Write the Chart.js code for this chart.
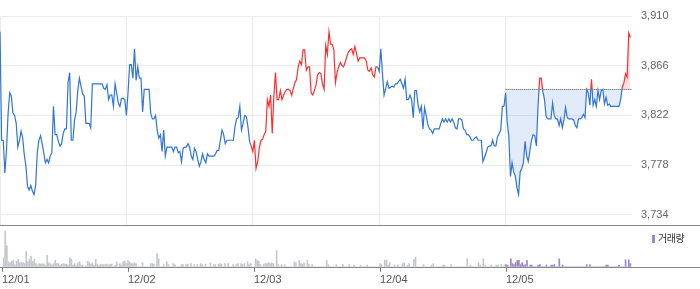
<!DOCTYPE html>
<html lang="ko">

<head>
    <meta charset="UTF-8">
    <title>Document</title>
    <script src="https://cdn.jsdelivr.net/npm/chart.js"></script>
    <style>
        body {
            margin: 0;
            background: #fff;
        }

        .wrap {
            position: relative;
            width: 700px;
            height: 289px;
        }

        #priceCanvas {
            position: absolute;
            left: 0;
            top: 0;
        }

        #volumeCanvas {
            position: absolute;
            left: 0;
            top: 226px;
        }

        .legend {
            position: absolute;
            left: 652px;
            top: 230px;
            font: 10px "Noto Sans CJK KR";
            color: #333;
            letter-spacing: -0.5px;
        }

        .legend i {
            display: inline-block;
            width: 3px;
            height: 8px;
            background: #9a88c8;
            margin-right: 3px;
            vertical-align: -1px;
        }
    </style>
</head>

<body>
    <div class="wrap">
        <canvas id="priceCanvas" width="700" height="226"></canvas>
        <canvas id="volumeCanvas" width="700" height="63"></canvas>
        <div class="legend"><i></i>거래량</div>
    </div>

    <script>
        const dates = ['12/01', '12/02', '12/03', '12/04', '12/05'];
        const priceTicks = [3734, 3778, 3822, 3866, 3910];
        const prevClose = 3845;

        // 5-minute prices, one array per day
        const price1 = [
            3896, 3800, 3800, 3771, 3791, 3824, 3842, 3839, 3824, 3822,
            3815, 3794, 3800, 3808, 3802, 3787, 3777, 3759, 3756, 3760,
            3755, 3752, 3760, 3789, 3800, 3804, 3797, 3789, 3780, 3783,
            3780, 3786, 3789, 3830, 3805, 3805, 3799, 3795, 3797, 3806,
            3810, 3810, 3851, 3860, 3800, 3800, 3818, 3825, 3844, 3855,
            3848, 3841, 3839, 3815, 3815, 3815, 3811, 3850, 3850, 3850,
            3850, 3850, 3850, 3850, 3846, 3845, 3849, 3836, 3840, 3840,
            3830, 3850, 3842, 3833, 3830, 3837, 3837, 3836
        ];
        const price2 = [
            3822, 3842, 3867, 3867, 3855, 3881, 3853, 3865, 3855, 3855,
            3825, 3845, 3845, 3845, 3845, 3824, 3819, 3819, 3822, 3809,
            3802, 3805, 3790, 3809, 3786, 3794, 3794, 3794, 3794, 3790,
            3794, 3794, 3789, 3790, 3781, 3793, 3794, 3794, 3797, 3794,
            3786, 3783, 3793, 3790, 3783, 3777, 3781, 3788, 3783, 3780,
            3788, 3786, 3786, 3786, 3786, 3788, 3791, 3791, 3800, 3809,
            3805, 3797, 3800, 3800, 3800, 3800, 3800, 3812, 3819, 3820,
            3830, 3809, 3815, 3822, 3821, 3812, 3799, 3795
        ];
        const price3 = [
            3790, 3800, 3775, 3781, 3793, 3800, 3801, 3805, 3808, 3836,
            3830, 3840, 3806, 3839, 3860, 3836, 3836, 3844, 3836, 3840,
            3843, 3845, 3845, 3844, 3840, 3846, 3851, 3854, 3865, 3870,
            3867, 3880, 3880, 3862, 3865, 3865, 3842, 3840, 3844, 3849,
            3858, 3860, 3859, 3850, 3845, 3884, 3876, 3896, 3885, 3885,
            3880, 3851, 3860, 3865, 3869, 3866, 3865, 3869, 3874, 3878,
            3880, 3881, 3876, 3883, 3877, 3870, 3873, 3873, 3873, 3873,
            3870, 3862, 3861, 3864, 3858, 3856, 3865, 3865
        ];
        const price4 = [
            3861, 3881, 3859, 3840, 3846, 3852, 3846, 3847, 3848, 3847,
            3850, 3850, 3852, 3854, 3850, 3846, 3854, 3836, 3836, 3840,
            3836, 3820, 3844, 3844, 3831, 3825, 3830, 3810, 3829, 3822,
            3814, 3810, 3809, 3806, 3810, 3810, 3810, 3810, 3815, 3819,
            3816, 3819, 3816, 3819, 3816, 3819, 3816, 3811, 3810, 3819,
            3819, 3818, 3810, 3809, 3805, 3805, 3803, 3800, 3800, 3802,
            3803, 3800, 3800, 3800, 3781, 3785, 3789, 3794, 3795, 3795,
            3800, 3795, 3795, 3803, 3806, 3809, 3830, 3830
        ];
        const price5 = [
            3842, 3816, 3803, 3768, 3780, 3772, 3768, 3758, 3752, 3772,
            3775, 3780, 3799, 3786, 3781, 3791, 3800, 3805, 3804, 3795,
            3830, 3855, 3855, 3843, 3836, 3821, 3819, 3819, 3819, 3833,
            3822, 3819, 3819, 3813, 3819, 3811, 3818, 3829, 3820, 3819,
            3819, 3819, 3818, 3813, 3811, 3819, 3819, 3820, 3823, 3820,
            3845, 3842, 3831, 3854, 3831, 3836, 3830, 3844, 3836, 3844,
            3845, 3832, 3838, 3831, 3832, 3830, 3830, 3830, 3830, 3830,
            3830, 3836, 3847, 3851, 3859, 3856, 3895, 3891
        ];

        // volume per 5-minute bar
        const volume1 = [
            0, 90, 367, 217, 50, 40, 57, 67, 20, 57,
            77, 40, 43, 43, 33, 157, 50, 77, 107, 57,
            77, 33, 20, 33, 27, 33, 27, 17, 117, 40,
            33, 20, 33, 67, 33, 33, 17, 27, 33, 27,
            27, 17, 93, 77, 17, 33, 17, 40, 50, 17,
            17, 0, 10, 57, 50, 27, 43, 17, 77, 27,
            17, 23, 23, 23, 23, 27, 17, 27, 27, 0,
            17, 50, 0, 33, 17, 50, 60, 33
        ];
        const volume2 = [
            63, 50, 33, 33, 40, 33, 0, 0, 0, 43,
            0, 0, 0, 0, 33, 33, 27, 0, 133, 83,
            0, 0, 23, 0, 50, 23, 0, 0, 33, 23,
            0, 0, 0, 23, 23, 0, 23, 27, 0, 33,
            0, 23, 0, 23, 0, 33, 23, 0, 27, 0,
            0, 40, 0, 23, 23, 0, 27, 33, 23, 0,
            33, 0, 33, 0, 0, 23, 0, 23, 33, 0,
            33, 23, 33, 0, 50, 23, 33, 0
        ];
        const volume3 = [
            0, 83, 67, 57, 23, 0, 27, 33, 33, 43,
            33, 40, 33, 0, 167, 23, 0, 23, 0, 23,
            0, 0, 0, 0, 0, 50, 40, 0, 67, 33,
            27, 40, 0, 67, 23, 0, 23, 0, 0, 0,
            0, 0, 0, 0, 0, 67, 23, 0, 0, 0,
            0, 23, 0, 0, 0, 23, 0, 0, 0, 23,
            0, 0, 17, 0, 0, 0, 17, 0, 0, 0,
            17, 0, 0, 0, 0, 0, 0, 0
        ];
        const volume4 = [
            33, 23, 0, 67, 73, 17, 43, 0, 0, 17,
            0, 17, 0, 0, 33, 43, 0, 17, 33, 0,
            0, 77, 100, 0, 0, 0, 0, 23, 0, 0,
            0, 0, 17, 33, 0, 0, 0, 0, 0, 17,
            17, 0, 0, 0, 23, 0, 0, 0, 0, 0,
            0, 0, 0, 0, 83, 0, 17, 0, 0, 0,
            0, 43, 17, 0, 83, 17, 0, 0, 0, 17,
            0, 0, 17, 17, 0, 23, 0, 17
        ];
        const volume5 = [
            23, 17, 0, 83, 33, 23, 43, 67, 67, 23,
            43, 17, 23, 67, 0, 17, 17, 0, 0, 0,
            17, 23, 0, 0, 0, 17, 0, 0, 17, 17,
            23, 0, 0, 83, 0, 17, 0, 0, 0, 0,
            0, 0, 0, 0, 0, 0, 0, 0, 0, 0,
            23, 0, 23, 0, 0, 0, 0, 0, 0, 0,
            0, 0, 17, 17, 0, 0, 0, 0, 0, 0,
            17, 0, 0, 0, 73, 0, 73, 33
        ];

        const prices = [price1, price2, price3, price4, price5];
        const volumes = [volume1, volume2, volume3, volume4, volume5];

        const BLUE = '#2f74d9';
        const RED = '#ff2e2e';

        // x = day index + fraction of the trading day
        const pricePoints = [];
        const pointDay = [];
        prices.forEach((arr, d) => arr.forEach((v, i) => {
            pricePoints.push({ x: d + i / arr.length, y: v });
            pointDay.push(d);
        }));
        const lastDay = prices.length - 1;
        const todayPoints = prices[lastDay].map((v, i) => ({ x: lastDay + i / prices[lastDay].length, y: v }));
        const dayUp = prices.map(arr => arr[arr.length - 1] > arr[0]);

        const volumePoints = [];
        const volumeDay = [];
        volumes.forEach((arr, d) => arr.forEach((v, i) => {
            volumePoints.push({ x: d + i / arr.length, y: v });
            volumeDay.push(d);
        }));

        const labelFont = { family: 'Liberation Sans', size: 11 };

        // red above / blue below the previous close for today's line
        let splitStroke = BLUE;
        const refSplit = {
            id: 'refSplit',
            afterLayout(chart) {
                const { top, bottom } = chart.chartArea;
                const py = chart.scales.y.getPixelForValue(prevClose);
                const f = Math.min(1, Math.max(0, (py - top) / (bottom - top)));
                const g = chart.ctx.createLinearGradient(0, top, 0, bottom);
                g.addColorStop(0, RED);
                g.addColorStop(f, RED);
                g.addColorStop(f, BLUE);
                g.addColorStop(1, BLUE);
                splitStroke = g;
            }
        };

        // dark line under the plot, full canvas width
        const baseLine = {
            id: 'baseLine',
            afterDraw(chart) {
                const ctx = chart.ctx;
                const y = Math.round(chart.chartArea.bottom) + 0.5;
                ctx.save();
                ctx.strokeStyle = '#888';
                ctx.lineWidth = 1;
                ctx.beginPath();
                ctx.moveTo(0, y);
                ctx.lineTo(chart.width, y);
                ctx.stroke();
                ctx.restore();
            }
        };

        new Chart(document.getElementById('priceCanvas'), {
            type: 'line',
            data: {
                datasets: [{
                    data: pricePoints,
                    borderWidth: 1.2,
                    borderColor: BLUE,
                    pointRadius: 0,
                    tension: 0,
                    order: 1,
                    segment: {
                        borderColor: ctx => {
                            const d = pointDay[ctx.p1DataIndex];
                            if (d === lastDay) return splitStroke;
                            return dayUp[d] ? RED : BLUE;
                        }
                    }
                }, {
                    data: [{ x: lastDay, y: prevClose }, { x: dates.length, y: prevClose }],
                    borderColor: '#444',
                    borderWidth: 1,
                    borderDash: [1, 1],
                    pointRadius: 0,
                    order: 2
                }, {
                    data: todayPoints,
                    borderWidth: 0,
                    borderColor: 'rgba(0,0,0,0)',
                    pointRadius: 0,
                    tension: 0,
                    order: 3,
                    fill: {
                        target: { value: prevClose },
                        above: 'rgba(255, 30, 60, 0.15)',
                        below: 'rgba(60, 120, 220, 0.15)'
                    }
                }]
            },
            options: {
                responsive: false,
                animation: false,
                layout: { padding: { top: 16, bottom: 1, left: 0, right: 0 } },
                plugins: {
                    legend: { display: false },
                    tooltip: { enabled: false }
                },
                scales: {
                    x: {
                        type: 'linear',
                        min: 0,
                        max: dates.length,
                        afterBuildTicks: s => { s.ticks = dates.map((d, i) => ({ value: i })); },
                        afterFit: s => { s.height = 0; },
                        grid: { color: '#ebebeb', drawTicks: false },
                        border: { display: false },
                        ticks: { display: false }
                    },
                    y: {
                        position: 'right',
                        min: 3725,
                        max: 3910,
                        afterBuildTicks: s => { s.ticks = priceTicks.map(v => ({ value: v })); },
                        afterFit: s => {
                            s.width = 68;
                            s.paddingTop = 0;
                            s.paddingBottom = 0;
                        },
                        grid: { color: '#ebebeb', drawTicks: false },
                        border: { display: false },
                        ticks: {
                            padding: 9,
                            color: '#666',
                            font: labelFont,
                            callback: v => v.toLocaleString('en-US')
                        }
                    }
                }
            },
            plugins: [refSplit, baseLine]
        });

        new Chart(document.getElementById('volumeCanvas'), {
            type: 'bar',
            data: {
                datasets: [{
                    data: volumePoints,
                    barThickness: 1,
                    backgroundColor: ctx => volumeDay[ctx.dataIndex] === lastDay ? '#9a88c8' : '#c4c7cc'
                }]
            },
            options: {
                responsive: false,
                animation: false,
                layout: { padding: { top: 2, right: 68, left: 0, bottom: 0 } },
                plugins: {
                    legend: { display: false },
                    tooltip: { enabled: false }
                },
                scales: {
                    x: {
                        type: 'linear',
                        min: 0,
                        max: dates.length,
                        offset: false,
                        afterBuildTicks: s => { s.ticks = dates.map((d, i) => ({ value: i })); },
                        grid: { offset: false, drawOnChartArea: false, drawTicks: true, tickLength: 5, color: '#777' },
                        border: { display: false },
                        ticks: {
                            align: 'start',
                            padding: 2,
                            maxRotation: 0,
                            autoSkip: false,
                            color: '#555',
                            font: labelFont,
                            callback: v => dates[v]
                        }
                    },
                    y: {
                        display: false,
                        min: 0,
                        max: 400
                    }
                }
            },
            plugins: [baseLine]
        });
    </script>
</body>

</html>
